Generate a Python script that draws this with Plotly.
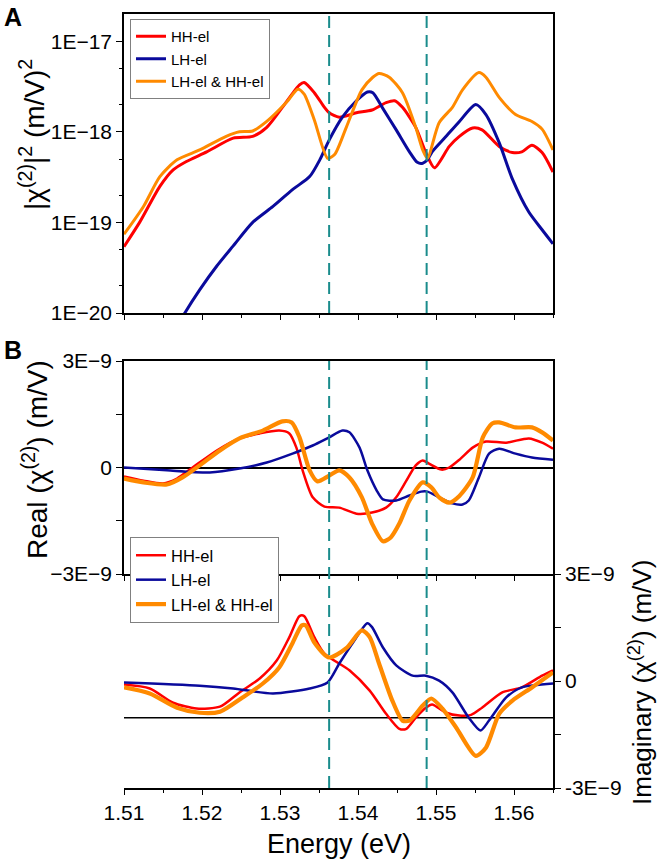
import plotly.graph_objects as go

# ---------------- data ----------------
# Panel A: |chi2|^2 (m/V)^2
E_A_HH = [1.5100, 1.5120, 1.5146, 1.5163, 1.5180, 1.5206, 1.5240, 1.5265, 1.5283, 1.5303, 1.5325, 1.5331,
          1.5344, 1.5357, 1.5363, 1.5376, 1.5398, 1.5418, 1.5436, 1.5447, 1.5457, 1.5474, 1.5487, 1.5498,
          1.5517, 1.5530, 1.5547, 1.5559, 1.5581, 1.5598, 1.5610, 1.5623, 1.5636, 1.5650]
A_HH = [5.4e-20, 1.0e-19, 2.5e-19, 3.8e-19, 4.7e-19, 6.0e-19, 8.5e-19, 8.9e-19, 1.12e-18, 1.86e-18, 3.3e-18, 3.5e-18,
        2.7e-18, 1.86e-18, 1.62e-18, 1.45e-18, 1.62e-18, 1.74e-18, 2.1e-18, 2.2e-18, 1.86e-18, 1.12e-18, 5.9e-19, 4.0e-19,
        6.9e-19, 8.9e-19, 1.1e-18, 1.05e-18, 6.9e-19, 5.9e-19, 6.0e-19, 7.1e-19, 5.9e-19, 3.6e-19]

E_A_LH = [1.5165, 1.5178, 1.5197, 1.5219, 1.5240, 1.5265, 1.5291, 1.5316, 1.5338, 1.5351, 1.5363, 1.5380, 1.5398,
          1.5412, 1.5419, 1.5432, 1.5449, 1.5466, 1.5476, 1.5483, 1.5489, 1.5495, 1.5513, 1.5530, 1.5551, 1.5564,
          1.5581, 1.5598, 1.5619, 1.5636, 1.5650]
A_LH = [6.3e-21, 1.0e-20, 1.8e-20, 3.3e-20, 5.5e-20, 1.0e-19, 1.5e-19, 2.3e-19, 3.2e-19, 4.9e-19, 8.1e-19, 1.45e-18, 2.2e-18,
        2.75e-18, 2.7e-18, 1.8e-18, 1.05e-18, 6.0e-19, 4.6e-19, 4.5e-19, 4.9e-19, 6.0e-19, 8.9e-19, 1.3e-18, 2.0e-18, 1.55e-18,
        7.6e-19, 3.0e-19, 1.3e-19, 8.3e-20, 5.8e-20]

E_A_BOTH = [1.5100, 1.5125, 1.5146, 1.5168, 1.5197, 1.5231, 1.5248, 1.5265, 1.5283, 1.5308, 1.5323, 1.5331, 1.5344,
            1.5361, 1.5370, 1.5385, 1.5405, 1.5419, 1.5427, 1.5440, 1.5457, 1.5474, 1.5483, 1.5489, 1.5504, 1.5521,
            1.5534, 1.5555, 1.5564, 1.5581, 1.5602, 1.5623, 1.5636, 1.5650]
A_BOTH = [7.4e-20, 1.5e-19, 3.2e-19, 4.9e-19, 6.3e-19, 8.9e-19, 1.0e-18, 1.02e-18, 1.3e-18, 2.1e-18, 2.95e-18, 2.6e-18, 1.35e-18,
          5.1e-19, 5.6e-19, 1.12e-18, 2.9e-18, 4.0e-18, 4.4e-18, 4.0e-18, 2.7e-18, 1.12e-18, 6.3e-19, 5.1e-19, 1.26e-18, 1.86e-18,
          2.9e-18, 4.5e-18, 4.0e-18, 2.4e-18, 1.55e-18, 1.3e-18, 1.07e-18, 6.3e-19]

# Panel B (upper): Real(chi2), units of 1E-9 m/V
E_RE_HH = [1.5100, 1.5125, 1.5150, 1.5168, 1.5188, 1.5219, 1.5248, 1.5274, 1.5299, 1.5312, 1.5321, 1.5329, 1.5342,
           1.5357, 1.5376, 1.5398, 1.5418, 1.5436, 1.5449, 1.5462, 1.5474, 1.5483, 1.5491, 1.5507, 1.5517, 1.5530,
           1.5547, 1.5564, 1.5590, 1.5619, 1.5636, 1.5650]
RE_HH = [-0.25, -0.37, -0.45, -0.31, 0.0, 0.48, 0.82, 0.96, 1.04, 0.96, 0.56, -0.08, -0.84,
         -1.10, -1.13, -1.30, -1.27, -1.13, -0.84, -0.37, 0.06, 0.20, 0.11, -0.06, 0.0, 0.22,
         0.56, 0.73, 0.70, 0.82, 0.70, 0.53]

E_RE_LH = [1.5100, 1.5155, 1.5210, 1.5248, 1.5283, 1.5316, 1.5342, 1.5363, 1.5380, 1.5389, 1.5402, 1.5412, 1.5424,
           1.5432, 1.5449, 1.5466, 1.5481, 1.5489, 1.5504, 1.5521, 1.5534, 1.5542, 1.5555, 1.5568, 1.5581, 1.5602,
           1.5623, 1.5650]
RE_LH = [0.0, -0.08, -0.14, -0.03, 0.14, 0.39, 0.62, 0.85, 1.04, 0.99, 0.56, -0.08, -0.65,
         -0.90, -0.93, -0.79, -0.68, -0.68, -0.84, -1.01, -1.04, -0.93, -0.28, 0.39, 0.53, 0.39,
         0.28, 0.22]

E_RE_BOTH = [1.5100, 1.5125, 1.5155, 1.5175, 1.5197, 1.5223, 1.5248, 1.5278, 1.5303, 1.5315, 1.5325, 1.5338, 1.5348,
             1.5363, 1.5376, 1.5389, 1.5405, 1.5418, 1.5432, 1.5442, 1.5453, 1.5466, 1.5483, 1.5494, 1.5504, 1.5517,
             1.5530, 1.5547, 1.5560, 1.5572, 1.5581, 1.5602, 1.5623, 1.5636, 1.5650]
RE_BOTH = [-0.31, -0.42, -0.48, -0.28, 0.06, 0.48, 0.82, 1.04, 1.30, 1.27, 0.85, -0.08, -0.39,
           -0.23, -0.08, -0.28, -0.84, -1.58, -2.08, -1.97, -1.58, -0.93, -0.42, -0.56, -0.84, -0.99,
           -0.80, -0.28, 0.85, 1.24, 1.27, 1.13, 1.13, 0.99, 0.76]

# Panel B (lower): Imaginary(chi2), units of 1E-9 m/V
E_IM_HH = [1.5100, 1.5133, 1.5163, 1.5193, 1.5223, 1.5248, 1.5274, 1.5296, 1.5312, 1.5325, 1.5331, 1.5344, 1.5357,
           1.5389, 1.5415, 1.5436, 1.5453, 1.5462, 1.5474, 1.5487, 1.5495, 1.5513, 1.5530, 1.5545, 1.5559, 1.5585,
           1.5610, 1.5636, 1.5650]
IM_HH = [-0.10, -0.21, -0.61, -0.77, -0.72, -0.32, 0.07, 0.58, 1.23, 1.82, 1.82, 1.23, 0.77,
         0.30, -0.27, -0.92, -1.34, -1.34, -1.03, -0.75, -0.66, -0.89, -0.97, -0.95, -0.75, -0.32,
         -0.18, 0.15, 0.30]

E_IM_LH = [1.5100, 1.5197, 1.5240, 1.5291, 1.5338, 1.5361, 1.5376, 1.5393, 1.5412, 1.5418, 1.5432, 1.5449, 1.5470,
           1.5487, 1.5504, 1.5521, 1.5542, 1.5557, 1.5568, 1.5590, 1.5610, 1.5650]
IM_LH = [-0.04, -0.13, -0.21, -0.35, -0.21, -0.04, 0.49, 1.06, 1.62, 1.51, 0.94, 0.44, 0.15,
         0.15, 0.01, -0.32, -1.03, -1.39, -1.11, -0.46, -0.18, -0.07]

E_IM_BOTH = [1.5100, 1.5133, 1.5168, 1.5197, 1.5223, 1.5252, 1.5278, 1.5299, 1.5316, 1.5328, 1.5333, 1.5344, 1.5363,
             1.5385, 1.5405, 1.5415, 1.5427, 1.5444, 1.5457, 1.5466, 1.5483, 1.5494, 1.5508, 1.5526, 1.5551, 1.5564,
             1.5581, 1.5598, 1.5623, 1.5650]
IM_BOTH = [-0.18, -0.35, -0.75, -0.89, -0.86, -0.46, -0.07, 0.38, 1.06, 1.56, 1.56, 1.08, 0.66,
           0.92, 1.42, 1.23, 0.49, -0.55, -1.11, -1.11, -0.69, -0.49, -0.77, -1.31, -2.10, -1.87,
           -0.92, -0.55, -0.18, 0.24]

IM_REF_LINE = -1.03          # black horizontal reference line in lower panel (1E-9 m/V)
DASH_E = [1.5363, 1.5488]    # dashed vertical markers (eV)

SERIES_NAMES = ["HH-el", "LH-el", "LH-el & HH-el"]
X_TICKS = [1.51, 1.52, 1.53, 1.54, 1.55, 1.56]
X_TICK_TEXT = ["1.51", "1.52", "1.53", "1.54", "1.55", "1.56"]
A_TICKS = [1e-20, 1e-19, 1e-18, 1e-17]
A_TICK_TEXT = ["1E\u221220", "1E\u221219", "1E\u221218", "1E\u221217"]
A_MINOR = [2e-20, 5e-20, 2e-19, 5e-19, 2e-18, 5e-18]
RE_TICKS = [-3, 0, 3]
RE_TICK_TEXT = ["\u22123E\u22129", "0", "3E\u22129"]
IM_TICKS = [-3, 0, 3]
IM_TICK_TEXT = ["-3E\u22129", "0", "3E\u22129"]

# ---------------- styling ----------------
COLORS = ["#ff0000", "#0a0a9c", "#ff8a00"]
DASH_COLOR = "#1a8c8c"
FONT = "Liberation Sans, Arial, sans-serif"
W, H = 660, 862

def px_x(p):
    return p / W

def px_y(p):
    return 1 - p / H

XD = [px_x(124), px_x(553)]
DOM_A = [px_y(313), px_y(14)]
DOM_RE = [px_y(574), px_y(361)]
DOM_IM = [px_y(788), px_y(574)]

fig = go.Figure()

A_SETS = [(E_A_HH, A_HH), (E_A_LH, A_LH), (E_A_BOTH, A_BOTH)]
RE_SETS = [(E_RE_HH, RE_HH), (E_RE_LH, RE_LH), (E_RE_BOTH, RE_BOTH)]
IM_SETS = [(E_IM_HH, IM_HH), (E_IM_LH, IM_LH), (E_IM_BOTH, IM_BOTH)]
B_WIDTHS = [2.5, 2.5, 4.2]

for i, (e, v) in enumerate(A_SETS):
    fig.add_trace(go.Scatter(x=e, y=v, mode="lines", name=SERIES_NAMES[i], xaxis="x", yaxis="y",
                             line=dict(color=COLORS[i], width=3, shape="spline", smoothing=0.7),
                             legend="legend", hoverinfo="skip"))
for i, (e, v) in enumerate(RE_SETS):
    fig.add_trace(go.Scatter(x=e, y=v, mode="lines", name=SERIES_NAMES[i], xaxis="x2", yaxis="y2",
                             line=dict(color=COLORS[i], width=B_WIDTHS[i], shape="spline", smoothing=0.7),
                             legend="legend2", hoverinfo="skip"))
for i, (e, v) in enumerate(IM_SETS):
    fig.add_trace(go.Scatter(x=e, y=v, mode="lines", name=SERIES_NAMES[i], xaxis="x3", yaxis="y3",
                             line=dict(color=COLORS[i], width=B_WIDTHS[i], shape="spline", smoothing=0.7),
                             showlegend=False, hoverinfo="skip"))

tickfont = dict(family=FONT, size=21, color="black")
xcommon = dict(range=[1.51, 1.565], showgrid=False, zeroline=False, showline=True, linecolor="black", linewidth=1.5,
               ticks="outside", ticklen=5, tickwidth=1.2, tickcolor="black", tickvals=X_TICKS,
               minor=dict(dtick=0.005, tick0=1.51, ticks="outside", ticklen=3, tickwidth=1.2, tickcolor="black"),
               tickfont=tickfont, fixedrange=True, domain=XD)

fig.update_layout(
    template="none",
    width=W, height=H,
    margin=dict(l=0, r=0, t=0, b=0),
    paper_bgcolor="white", plot_bgcolor="white",
    font=dict(family=FONT, color="black"),
    xaxis=dict(**xcommon, anchor="y", mirror=True, showticklabels=False),
    yaxis=dict(type="log", range=[-20, -16.7], domain=DOM_A, anchor="x", showgrid=False, zeroline=False,
               showline=True, linecolor="black", linewidth=1.5, mirror=True, ticks="outside", ticklen=6,
               tickwidth=1.2, tickcolor="black", tickvals=A_TICKS, ticktext=A_TICK_TEXT, tickfont=tickfont,
               minor=dict(tickvals=A_MINOR, ticks="outside", ticklen=3, tickwidth=1.2, tickcolor="black"),
               automargin=False),
    xaxis2=dict(**xcommon, anchor="y2", mirror=True, showticklabels=False),
    yaxis2=dict(range=[-3, 3], domain=DOM_RE, anchor="x2", showgrid=False, zeroline=True, zerolinecolor="black",
                zerolinewidth=1.5, showline=True, linecolor="black", linewidth=1.5, mirror=True,
                ticks="outside", ticklen=6, tickwidth=1.2, tickcolor="black", tickvals=RE_TICKS,
                ticktext=RE_TICK_TEXT, tickfont=tickfont,
                minor=dict(dtick=1.5, tick0=0, ticks="outside", ticklen=6, tickwidth=1.2, tickcolor="black"),
                automargin=False),
    yaxis5=dict(range=[-3, 3], overlaying="y2", anchor="x2", side="right", showgrid=False, zeroline=False,
                showline=False, ticks="inside", ticklen=4, tickwidth=1.2, tickcolor="black",
                tickvals=[-1.5, 1.5], showticklabels=False, automargin=False),
    xaxis3=dict(**xcommon, anchor="y3", mirror=False, ticktext=X_TICK_TEXT),
    yaxis3=dict(range=[-3, 3], domain=DOM_IM, anchor="x3", side="right", showgrid=False, zeroline=False,
                showline=True, linecolor="black", linewidth=1.5, ticks="outside", ticklen=6, tickwidth=1.2,
                tickcolor="black", tickvals=IM_TICKS, ticktext=IM_TICK_TEXT, tickfont=tickfont,
                minor=dict(dtick=1.5, tick0=0, ticks="outside", ticklen=6, tickwidth=1.2, tickcolor="black"),
                automargin=False),
    yaxis4=dict(range=[-3, 3], overlaying="y3", anchor="x3", side="left", showgrid=False, zeroline=False,
                showline=True, linecolor="black", linewidth=1.5, ticks="outside", ticklen=6, tickwidth=1.2,
                tickcolor="black", tickvals=[-1.5, 1.5], showticklabels=False, automargin=False),
    legend=dict(x=px_x(130), y=px_y(19), xanchor="left", yanchor="top", bgcolor="white",
                bordercolor="#808080", borderwidth=1, font=dict(family=FONT, size=15, color="black"),
                tracegroupgap=0, itemwidth=30),
    legend2=dict(x=px_x(130), y=px_y(537), xanchor="left", yanchor="top", bgcolor="white",
                 bordercolor="#808080", borderwidth=1, font=dict(family=FONT, size=16.5, color="black"),
                 tracegroupgap=0, itemwidth=30),
)

shapes = []
for e in DASH_E:
    shapes.append(dict(type="line", xref="x", yref="y domain", x0=e, x1=e, y0=0, y1=1,
                       line=dict(color=DASH_COLOR, width=2, dash="12px,7px")))
    shapes.append(dict(type="line", xref="x3", yref="paper", x0=e, x1=e, y0=DOM_IM[0], y1=DOM_RE[1],
                       line=dict(color=DASH_COLOR, width=2, dash="12px,7px")))
shapes.append(dict(type="line", xref="x3 domain", yref="y3", x0=0, x1=1, y0=IM_REF_LINE, y1=IM_REF_LINE,
                   line=dict(color="black", width=1.5), layer="below"))
fig.update_layout(shapes=shapes)

ann = [
    dict(text="<b>A</b>", x=px_x(2), y=px_y(1), xref="paper", yref="paper", xanchor="left", yanchor="top",
         showarrow=False, font=dict(family=FONT, size=25)),
    dict(text="<b>B</b>", x=px_x(2), y=px_y(334), xref="paper", yref="paper", xanchor="left", yanchor="top",
         showarrow=False, font=dict(family=FONT, size=25)),
    dict(text="|\u03c7<sup>(2)</sup>|<sup>2</sup> (m/V)<sup>2</sup>", x=px_x(32), y=px_y(135), xref="paper",
         yref="paper", xanchor="center", yanchor="middle", textangle=-90, showarrow=False,
         font=dict(family=FONT, size=28)),
    dict(text="Real (\u03c7<sup>(2)</sup>) (m/V)", x=px_x(35), y=px_y(460), xref="paper",
         yref="paper", xanchor="center", yanchor="middle", textangle=-90, showarrow=False,
         font=dict(family=FONT, size=28)),
    dict(text="Imaginary (\u03c7<sup>(2)</sup>) (m/V)", x=px_x(640), y=px_y(683), xref="paper",
         yref="paper", xanchor="center", yanchor="middle", textangle=-90, showarrow=False,
         font=dict(family=FONT, size=26)),
    dict(text="Energy (eV)", x=(XD[0] + XD[1]) / 2, y=px_y(844), xref="paper", yref="paper",
         xanchor="center", yanchor="middle", showarrow=False, font=dict(family=FONT, size=27)),
]
fig.update_layout(annotations=ann)

fig.write_html("out.html", config={"displayModeBar": False},
               post_script="document.body.style.margin='0';document.body.style.overflow='hidden';")
